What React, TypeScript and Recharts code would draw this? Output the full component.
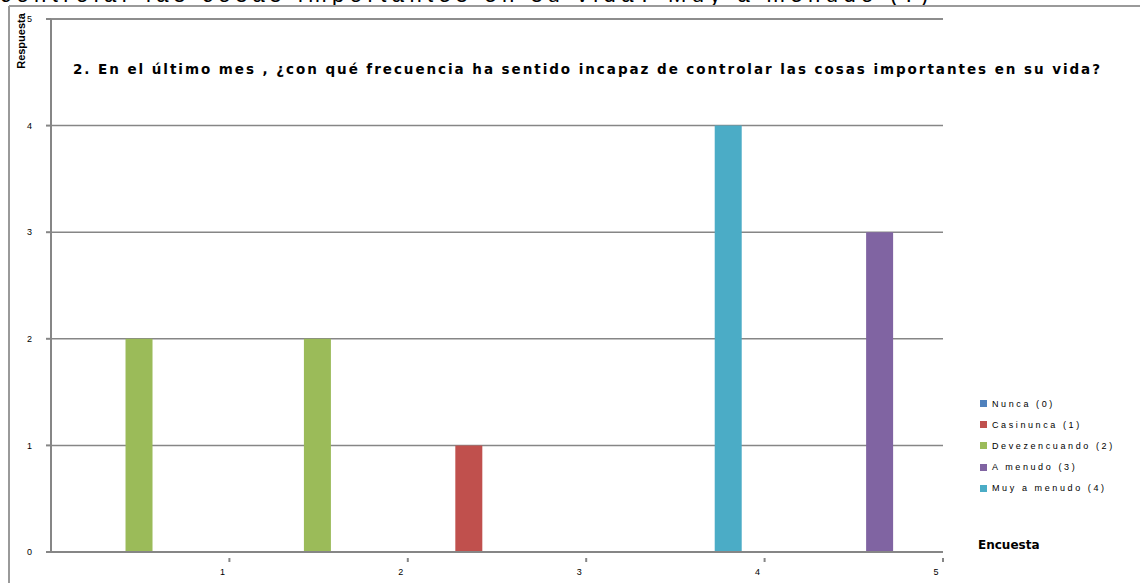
import { Bar, BarChart, CartesianGrid, Legend, ReferenceLine, XAxis, YAxis } from "recharts";

const encuestas = ["1", "2", "3", "4", "5"];
const nunca: (number | null)[] = [null, null, null, null, null];
const casiNunca: (number | null)[] = [null, null, 1, null, null];
const deVezEnCuando: (number | null)[] = [2, 2, null, null, null];
const aMenudo: (number | null)[] = [null, null, null, null, 3];
const muyAMenudo: (number | null)[] = [null, null, null, 4, null];

const seriesNames = ["Nunca (0)", "Casinunca (1)", "Devezencuando (2)", "A menudo (3)", "Muy a menudo (4)"];
const seriesColors = ["#4F81BD", "#C0504D", "#9BBB59", "#8064A2", "#4BACC6"];
const yTicks = [0, 1, 2, 3, 4, 5];

const title =
  "2. En el último mes , ¿con qué frecuencia ha sentido incapaz de controlar las cosas importantes en su vida?";
const header = "controlar las cosas importantes en su vida? Muy a menudo (?)";

const data = encuestas.map((e, i) => ({
  encuesta: e,
  s0: nunca[i],
  s1: casiNunca[i],
  s2: deVezEnCuando[i],
  s3: aMenudo[i],
  s4: muyAMenudo[i],
}));

const FONT = "'Liberation Sans', Arial, sans-serif";
const AXIS = "#868686";

// legend keeps the series order (recharts would sort it by name)
function LegendBox() {
  return (
    <div style={{ fontFamily: FONT, fontSize: 9, letterSpacing: 2.6, color: "#000" }}>
      {seriesNames.map((name, i) => (
        <div key={name} style={{ display: "flex", alignItems: "center", height: 21.2 }}>
          <span style={{ width: 7, height: 7, background: seriesColors[i], marginRight: 5 }} />
          {name}
        </div>
      ))}
    </div>
  );
}

// Excel puts the tick mark and label at the right edge of each category band
function XTick({ x, y, payload }: { x?: number; y?: number; payload?: { value: string; offset?: number } }) {
  const edge = (x ?? 0) + (payload?.offset ?? 0);
  const top = (y ?? 0) - 2;
  return (
    <g>
      <line x1={edge} y1={top} x2={edge} y2={top + 4} stroke={AXIS} strokeWidth={2} />
      <text x={edge - 7} y={top + 17} textAnchor="middle" fontSize={9} fontFamily={FONT} fill="#000">
        {payload?.value}
      </text>
    </g>
  );
}

export default function App() {
  return (
    <div style={{ position: "absolute", left: 0, top: 0, width: 1140, height: 583, background: "#fff", overflow: "hidden" }}>
      <BarChart
        width={1140}
        height={583}
        data={data}
        margin={{ top: 19, right: 197, bottom: 0, left: 9 }}
        barCategoryGap="11.5%"
        barGap={0}
      >
        <CartesianGrid vertical={false} stroke={AXIS} strokeWidth={1.5} />
        <XAxis
          dataKey="encuesta"
          height={31}
          stroke={AXIS}
          strokeWidth={2}
          tickLine={false}
          tick={<XTick />}
          interval={0}
        />
        <YAxis
          domain={[0, 5]}
          ticks={yTicks}
          width={42}
          stroke={AXIS}
          strokeWidth={2}
          tickSize={5}
          tickMargin={14}
          tick={{ fontSize: 9, fill: "#000", fontFamily: FONT }}
        />
        <ReferenceLine y={5} stroke={AXIS} strokeWidth={1.5} />
        <Legend
          layout="vertical"
          align="center"
          verticalAlign="middle"
          wrapperStyle={{ position: "absolute", left: 980, top: 393, width: 160, height: 110 }}
          content={<LegendBox />}
        />
        {seriesNames.map((name, i) => (
          <Bar
            key={name}
            dataKey={`s${i}`}
            name={name}
            fill={seriesColors[i]}
            isAnimationActive={false}
          />
        ))}
      </BarChart>
      <svg width={1140} height={583} style={{ position: "absolute", left: 0, top: 0, pointerEvents: "none" }}>
        <text x={0} y={2} fontSize={22} fontFamily={FONT} fill="#000" textLength={928} lengthAdjust="spacing">
          {header}
        </text>
        <line x1={9} y1={6} x2={1140} y2={6} stroke="#9a9a9a" strokeWidth={2} />
        <line x1={9} y1={6} x2={9} y2={583} stroke="#9a9a9a" strokeWidth={2} />
        <text x={73} y={74} fontSize={13.5} fontWeight="bold" fontFamily="'DejaVu Sans', sans-serif" fill="#000" textLength={1027} lengthAdjust="spacing">
          {title}
        </text>
        <text
          transform="translate(25,41) rotate(-90)"
          textAnchor="middle"
          fontSize={11}
          fontWeight="bold"
          fontFamily={FONT}
          fill="#000"
        >
          Respuesta
        </text>
        <text x={978} y={549} fontSize={12} fontWeight="bold" fontFamily="'DejaVu Sans', sans-serif" fill="#000">
          Encuesta
        </text>
      </svg>
    </div>
  );
}
